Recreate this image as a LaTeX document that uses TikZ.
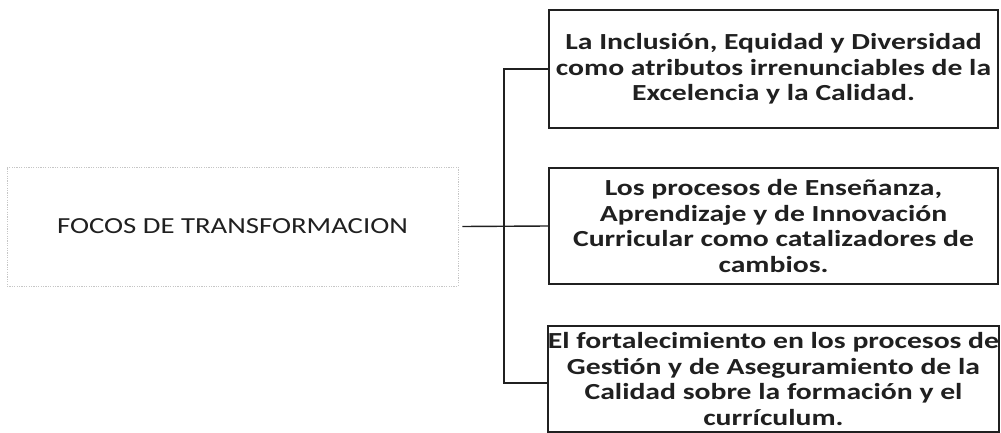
\documentclass[tikz,border=0pt]{standalone}
\usepackage{fontspec}
\setmainfont{Carlito}
\newfontfamily\leftfont[FakeStretch=1.25]{Carlito}
\newfontfamily\boxfont[FakeStretch=1.29]{Carlito}
\definecolor{ink}{HTML}{202020}
\begin{document}
\begin{tikzpicture}[x=1pt,y=1pt,
  focobox/.style={draw=gray!45,line width=0.8pt,dash pattern=on 1.2pt off 1.2pt,
    minimum width=451pt,minimum height=119pt,inner sep=0pt,
    font=\leftfont\fontsize{23}{26}\selectfont,text=ink},
  itembox/.style={draw=ink,line width=1.5pt,minimum width=449pt,inner sep=0pt,
    align=center,font=\boxfont\bfseries\fontsize{23}{25.7}\selectfont,text=ink},
  conn/.style={draw=ink,line width=1.4pt}]
\useasboundingbox (0,0) rectangle (1001,-433);
\fill[white] (0,0) rectangle (1001,-433);
\node[focobox] (left) at (232.5,-226.5) {FOCOS DE TRANSFORMACION};
\node[itembox,minimum height=118pt] (box1) at (773.5,-69)
  {La Inclusión, Equidad y Diversidad\\como atributos irrenunciables de la\\Excelencia y la Calidad.};
\node[itembox,minimum height=116pt] (box2) at (773.5,-226)
  {Los procesos de Enseñanza,\\Aprendizaje y de Innovación\\Curricular como catalizadores de\\cambios.};
\node[itembox,minimum height=106pt] (box3) at (773.5,-379)
  {El fortalecimiento en los procesos de\\Gestión y de Aseguramiento de la\\Calidad sobre la formación y el\\currículum.};
\coordinate (j) at (504,-226);
\coordinate (b3) at ([yshift=-4pt]box3.west);
\draw[conn] ([xshift=4pt]left.east) -- (box2.west);
\draw[conn] (box1.west) -| (j) |- (b3);
\end{tikzpicture}
\end{document}
